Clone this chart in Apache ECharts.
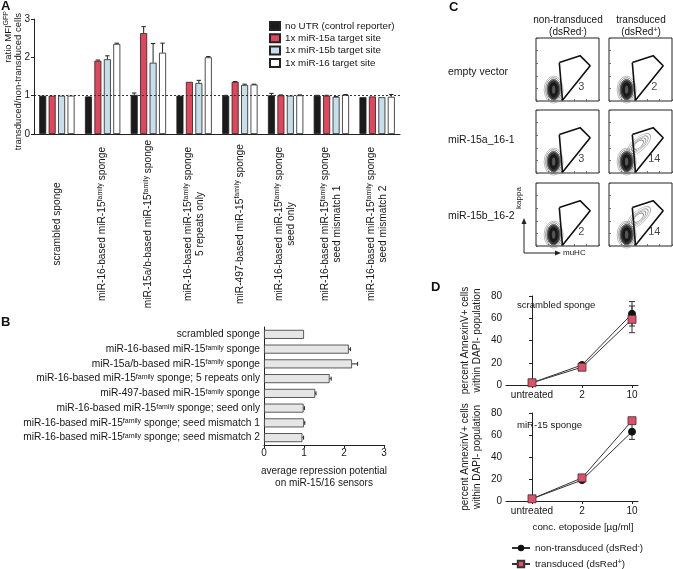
<!DOCTYPE html>
<html><head><meta charset="utf-8">
<script src="https://cdn.jsdelivr.net/npm/echarts@6/dist/echarts.min.js"></script>
<style>html,body{margin:0;padding:0;background:#fff}#c{width:673px;height:569px}</style>
</head><body><div id="c"></div>
<script>
// ---------- Panel A data ----------
const aCategories = [
  'scrambled sponge',
  'miR-16-based miR-15{sup|family} sponge',
  'miR-15a/b-based miR-15{sup|family} sponge',
  'miR-16-based miR-15{sup|family} sponge\n5 repeats only',
  'miR-497-based miR-15{sup|family} sponge',
  'miR-16-based miR-15{sup|family} sponge\nseed only',
  'miR-16-based miR-15{sup|family} sponge\nseed mismatch 1',
  'miR-16-based miR-15{sup|family} sponge\nseed mismatch 2'
];
const aSeriesNames = ['no UTR (control reporter)', '1x miR-15a target site', '1x miR-15b target site', '1x miR-16 target site'];
const aNoUTR    = [1.00, 0.98, 1.02, 1.00, 1.00, 1.01, 1.00, 0.96];
const aNoUTRErr = [0, 0, 0.05, 0, 0.01, 0.05, 0.01, 0];
const a15a      = [1.00, 1.91, 2.63, 1.36, 1.36, 1.01, 1.00, 0.98];
const a15aErr   = [0, 0.02, 0.17, 0, 0.01, 0.01, 0.01, 0];
const a15b      = [1.00, 1.95, 1.86, 1.33, 1.28, 1.00, 0.97, 0.96];
const a15bErr   = [0, 0.09, 0.50, 0.07, 0.02, 0, 0.01, 0];
const a16       = [1.00, 2.35, 2.12, 2.00, 1.29, 1.01, 1.02, 0.97];
const a16Err    = [0, 0.02, 0.25, 0.02, 0.01, 0.01, 0.01, 0.06];
const aTicks = [0, 1, 2, 3];

// ---------- Panel B data ----------
const bCategories = [
  'scrambled sponge',
  'miR-16-based miR-15{sup|family} sponge',
  'miR-15a/b-based miR-15{sup|family} sponge',
  'miR-16-based miR-15{sup|family} sponge; 5 repeats only',
  'miR-497-based miR-15{sup|family} sponge',
  'miR-16-based miR-15{sup|family} sponge; seed only',
  'miR-16-based miR-15{sup|family} sponge; seed mismatch 1',
  'miR-16-based miR-15{sup|family} sponge; seed mismatch 2'
];
const bValues = [1.00, 2.12, 2.20, 1.64, 1.28, 0.99, 1.00, 0.96];
const bErr    = [0, 0.04, 0.14, 0.04, 0.02, 0.02, 0.02, 0.03];

// ---------- Panel C data ----------
const cRowLabels = ['empty vector', 'miR-15a_16-1', 'miR-15b_16-2'];
const cColLabels = ['non-transduced', 'transduced'];
const cColSub = ['(dsRed{sup|-})', '(dsRed{sup|+})'];
const cGatePercent = [[3, 2], [3, 14], [2, 14]];
const cGate = [[37, 61], [70, 72], [86, 56], [42, 1], [37, 61]];
const cMainPopulation = [28, 18];
const cShiftedPopulation = [47, 45];
const cPercentAnchor = [72, 22];

// ---------- Panel D data ----------
const dCategories = ['untreated', '2', '10'];
const dNames = ['non-transduced (dsRed-)', 'transduced (dsRed+)'];
const dScrNon    = [2, 18, 64];
const dScrNonErr = [0.5, 1, 11];
const dScrTr     = [2, 16, 59];
const dScrTrErr  = [0.5, 1, 12];
const dSpNon     = [2, 19, 63];
const dSpNonErr  = [0.5, 1, 7];
const dSpTr      = [2, 21, 73];
const dSpTrErr   = [0.5, 1, 2];

// ---------- build ----------
const FONT = 'Liberation Sans, Arial, sans-serif';
const TXT = '#161616';
const SUP = {fontSize: 7, verticalAlign: 'top', color: TXT, fontFamily: FONT};
const chart = echarts.init(document.getElementById('c'));

const grids = [], xAxes = [], yAxes = [], series = [];

// Panel A
grids.push({left: 34, top: 19, width: 366, height: 115});
xAxes.push({gridIndex: 0, type: 'category', data: aCategories,
  axisLine: {lineStyle: {color: '#222', width: 1}}, axisTick: {show: false},
  axisLabel: {interval: 0, rotate: 90, align: 'center', verticalAlign: 'middle', margin: 90,
    fontSize: 10.2, color: TXT, fontFamily: FONT, lineHeight: 12, rich: {sup: SUP}}});
yAxes.push({gridIndex: 0, type: 'value', min: aTicks[0], max: aTicks[aTicks.length - 1], interval: 1,
  axisLine: {show: true, lineStyle: {color: '#222'}}, axisTick: {show: true, length: 3, lineStyle: {color: '#222'}},
  splitLine: {show: false}, axisLabel: {fontSize: 10, color: TXT, margin: 4}});
const aValues = [aNoUTR, a15a, a15b, a16];
const aErrors = [aNoUTRErr, a15aErr, a15bErr, a16Err];
const aColors = ['#1b1b1b', '#e2465b', '#c6dfea', '#ffffff'];
const A_BW = 7, A_GAP = 0.35, A_STEP = A_BW * (1 + A_GAP);
aValues.forEach((vals, k) => {
  const s = {type: 'bar', name: aSeriesNames[k], xAxisIndex: 0, yAxisIndex: 0, data: vals,
    barWidth: A_BW, barGap: (A_GAP * 100) + '%',
    itemStyle: {color: aColors[k], borderColor: '#222', borderWidth: 0.8}};
  if (k === 0) {
    s.markLine = {silent: true, symbol: 'none', label: {show: false},
      lineStyle: {type: [2, 2], color: '#333', width: 1}, data: [{yAxis: 1}]};
  }
  series.push(s);
  series.push({type: 'custom', xAxisIndex: 0, yAxisIndex: 0, silent: true, z: 3,
    data: vals.map((v, i) => [i, v, v + aErrors[k][i], aErrors[k][i]]),
    renderItem: (p, api) => {
      if (api.value(3) <= 0) return null;
      const b = api.coord([api.value(0), api.value(1)]);
      const t = api.coord([api.value(0), api.value(2)]);
      const x = b[0] + (k - 1.5) * A_STEP;
      return {type: 'group', children: [
        {type: 'line', shape: {x1: x, y1: b[1], x2: x, y2: t[1]}, style: {stroke: '#222', lineWidth: 1}},
        {type: 'line', shape: {x1: x - 2.2, y1: t[1], x2: x + 2.2, y2: t[1]}, style: {stroke: '#222', lineWidth: 1}}]};
    }});
});

// Panel B
grids.push({left: 264, top: 327, width: 120, height: 118});
xAxes.push({gridIndex: 1, type: 'value', min: 0, max: 3, interval: 1,
  axisLine: {show: true, lineStyle: {color: '#222'}}, axisTick: {show: true, length: 3, lineStyle: {color: '#222'}},
  splitLine: {show: false}, axisLabel: {fontSize: 10, color: TXT, margin: 3},
  name: 'average repression potential\non miR-15/16 sensors', nameLocation: 'middle', nameGap: 20,
  nameTextStyle: {fontSize: 10, color: TXT, lineHeight: 12, fontFamily: FONT}});
yAxes.push({gridIndex: 1, type: 'category', inverse: true, data: bCategories,
  axisLine: {show: true, lineStyle: {color: '#222'}}, axisTick: {show: false},
  axisLabel: {interval: 0, fontSize: 10.2, color: TXT, margin: 4, fontFamily: FONT, rich: {sup: SUP}}});
series.push({type: 'bar', xAxisIndex: 1, yAxisIndex: 1, data: bValues, barWidth: 9,
  itemStyle: {color: '#e6e6e6', borderColor: '#333', borderWidth: 0.8}});
series.push({type: 'custom', xAxisIndex: 1, yAxisIndex: 1, silent: true, z: 3,
  data: bValues.map((v, i) => [v, i, v + bErr[i], bErr[i]]),
  renderItem: (p, api) => {
    if (api.value(3) <= 0) return null;
    const b = api.coord([api.value(0), api.value(1)]);
    const t = api.coord([api.value(2), api.value(1)]);
    return {type: 'group', children: [
      {type: 'line', shape: {x1: b[0], y1: b[1], x2: t[0], y2: b[1]}, style: {stroke: '#222', lineWidth: 1}},
      {type: 'line', shape: {x1: t[0], y1: b[1] - 2, x2: t[0], y2: b[1] + 2}, style: {stroke: '#222', lineWidth: 1}}]};
  }});

// Panel C
const C_LEFT = [536, 609], C_TOP = [38, 110, 183], C_SIZE = 63;
const mainRings = [
  {s: [19, 27], stroke: '#999', fill: 'rgba(0,0,0,0)'},
  {s: [16, 24], stroke: '#666', fill: 'rgba(0,0,0,0)'},
  {s: [13.5, 21], stroke: '#444', fill: '#555'},
  {s: [11, 18], stroke: '#222', fill: '#2a2a2a'},
  {s: [8, 14], stroke: '#111', fill: '#111'},
  {s: [3, 7], stroke: '#555', fill: '#666'}
];
const shiftRings = [
  {s: [30, 13], stroke: '#999'},
  {s: [24, 10], stroke: '#888'},
  {s: [18, 8], stroke: '#777'},
  {s: [12, 6], stroke: '#666'}
];
for (let r = 0; r < 3; r++) {
  for (let c = 0; c < 2; c++) {
    const g = grids.length;
    grids.push({left: C_LEFT[c], top: C_TOP[r], width: C_SIZE, height: C_SIZE, show: true,
      borderColor: '#222', borderWidth: 1, backgroundColor: '#fff'});
    const ax = {gridIndex: g, type: 'value', min: 0, max: 100, interval: 20,
      axisLine: {show: false}, axisLabel: {show: false}, splitLine: {show: false},
      axisTick: {show: true, inside: true, length: 2, lineStyle: {color: '#555', width: 0.8}}};
    xAxes.push(Object.assign({}, ax));
    yAxes.push(Object.assign({}, ax));
    if (c === 1 && r > 0) {
      series.push({type: 'scatter', xAxisIndex: g, yAxisIndex: g, silent: true, z: 2,
        data: shiftRings.map(rg => ({value: cShiftedPopulation, symbolSize: rg.s, symbolRotate: 42,
          itemStyle: {color: 'rgba(0,0,0,0)', borderColor: rg.stroke, borderWidth: 0.8}}))});
    }
    series.push({type: 'scatter', xAxisIndex: g, yAxisIndex: g, silent: true, z: 3,
      data: mainRings.map(rg => ({value: cMainPopulation, symbolSize: rg.s,
        itemStyle: {color: rg.fill, borderColor: rg.stroke, borderWidth: 0.8}}))});
    series.push({type: 'line', xAxisIndex: g, yAxisIndex: g, silent: true, z: 4, data: cGate,
      symbol: 'none', lineStyle: {color: '#111', width: 1.6}});
    series.push({type: 'scatter', xAxisIndex: g, yAxisIndex: g, silent: true, z: 5,
      data: [cPercentAnchor], symbolSize: 1, itemStyle: {color: 'rgba(0,0,0,0)'},
      label: {show: true, position: 'inside', formatter: String(cGatePercent[r][c]),
        fontSize: 11, color: TXT, fontFamily: FONT}});
  }
}

// Panel D
const dTopGrid = grids.length;
grids.push({left: 506, top: 296, width: 132, height: 89});
grids.push({left: 506, top: 413, width: 132, height: 88});
[dTopGrid, dTopGrid + 1].forEach(g => {
  xAxes.push({gridIndex: g, type: 'value', min: -0.52, max: 2.12,
    axisLine: {show: true, lineStyle: {color: '#222'}},
    axisTick: {show: true, length: 3, customValues: [0, 1, 2], lineStyle: {color: '#222'}},
    axisLabel: {customValues: [0, 1, 2], formatter: v => dCategories[Math.round(v)], fontSize: 10, color: TXT, margin: 5},
    splitLine: {show: false}});
  yAxes.push({gridIndex: g, type: 'value', min: 0, max: 80, interval: 20,
    axisLine: {show: true, lineStyle: {color: '#222'}}, axisTick: {show: true, length: 3, lineStyle: {color: '#222'}},
    splitLine: {show: false}, axisLabel: {fontSize: 10, color: TXT, margin: 4},
    name: 'percent AnnexinV+ cells\nwithin DAPI- population', nameLocation: 'middle', nameRotate: 90, nameGap: 23,
    nameTextStyle: {fontSize: 10, color: TXT, lineHeight: 12, fontFamily: FONT}});
});
const dSets = [
  [dTopGrid, dScrNon, dScrNonErr, dScrTr, dScrTrErr],
  [dTopGrid + 1, dSpNon, dSpNonErr, dSpTr, dSpTrErr]
];
dSets.forEach(([g, non, nonE, tr, trE]) => {
  [[non, nonE], [tr, trE]].forEach(([vals, errs]) => {
    series.push({type: 'custom', xAxisIndex: g, yAxisIndex: g, silent: true, z: 1,
      data: vals.map((v, i) => [i, v - errs[i], v + errs[i]]),
      renderItem: (p, api) => {
        const lo = api.coord([api.value(0), api.value(1)]);
        const hi = api.coord([api.value(0), api.value(2)]);
        return {type: 'group', children: [
          {type: 'line', shape: {x1: lo[0], y1: lo[1], x2: hi[0], y2: hi[1]}, style: {stroke: '#333', lineWidth: 1}},
          {type: 'line', shape: {x1: lo[0] - 3, y1: lo[1], x2: lo[0] + 3, y2: lo[1]}, style: {stroke: '#333', lineWidth: 1}},
          {type: 'line', shape: {x1: hi[0] - 3, y1: hi[1], x2: hi[0] + 3, y2: hi[1]}, style: {stroke: '#333', lineWidth: 1}}]};
      }});
  });
  series.push({type: 'line', name: dNames[0], xAxisIndex: g, yAxisIndex: g, z: 3,
    data: non.map((v, i) => [i, v]), symbol: 'circle', symbolSize: 7,
    itemStyle: {color: '#111', borderColor: '#111'}, lineStyle: {color: '#333', width: 1}});
  series.push({type: 'line', name: dNames[1], xAxisIndex: g, yAxisIndex: g, z: 4,
    data: tr.map((v, i) => [i, v]), symbol: 'rect', symbolSize: 8,
    itemStyle: {color: '#e0506a', borderColor: '#333', borderWidth: 0.8}, lineStyle: {color: '#333', width: 1}});
});

// ---------- texts ----------
const t = (x, y, text, extra) => ({type: 'text', x, y, silent: true,
  style: Object.assign({text, fontSize: 10, fill: TXT, fontFamily: FONT, rich: {sup: SUP}}, extra || {})});
const letter = (x, y, s) => t(x, y, s, {fontSize: 13, fontWeight: 'bold', fill: '#111', verticalAlign: 'top'});
const graphics = [
  letter(1, 0, 'A'), letter(1, 316, 'B'), letter(449, 1, 'C'), letter(431, 281, 'D'),
  Object.assign(t(8, 11, 'ratio MFI{sup|GFP}', {fontSize: 9.5, align: 'right', verticalAlign: 'middle'}), {rotation: Math.PI / 2}),
  Object.assign(t(18, 13, 'transduced/non-transduced cells', {fontSize: 9.5, align: 'right', verticalAlign: 'middle'}), {rotation: Math.PI / 2}),
  t(568, 20, cColLabels[0], {align: 'center', verticalAlign: 'middle'}),
  t(568, 32, cColSub[0], {align: 'center', verticalAlign: 'middle'}),
  t(641, 20, cColLabels[1], {align: 'center', verticalAlign: 'middle'}),
  t(641, 32, cColSub[1], {align: 'center', verticalAlign: 'middle'}),
  t(448, 72, cRowLabels[0], {fontSize: 10.5, verticalAlign: 'middle'}),
  t(448, 140, cRowLabels[1], {fontSize: 10.5, verticalAlign: 'middle'}),
  t(448, 216, cRowLabels[2], {fontSize: 10.5, verticalAlign: 'middle'}),
  {type: 'line', silent: true, shape: {x1: 524, y1: 253, x2: 524, y2: 222}, style: {stroke: '#222', lineWidth: 1}},
  {type: 'polygon', silent: true, shape: {points: [[524, 218], [521.5, 224], [526.5, 224]]}, style: {fill: '#222'}},
  {type: 'line', silent: true, shape: {x1: 524, y1: 253, x2: 557, y2: 253}, style: {stroke: '#222', lineWidth: 1}},
  {type: 'polygon', silent: true, shape: {points: [[561, 253], [555, 250.5], [555, 255.5]]}, style: {fill: '#222'}},
  Object.assign(t(519, 198, 'kappa', {fontSize: 8, align: 'center', verticalAlign: 'middle'}), {rotation: Math.PI / 2}),
  t(563, 253, 'muHC', {fontSize: 8, verticalAlign: 'middle'}),
  t(517, 305, 'scrambled sponge', {fontSize: 9.6, verticalAlign: 'middle'}),
  t(517, 425, 'miR-15 sponge', {fontSize: 9.6, verticalAlign: 'middle'}),
  t(583, 527, 'conc. etoposide [µg/ml]', {fontSize: 9.8, align: 'center', verticalAlign: 'middle'})
];

const legendD = (name, top) => ({data: [name], orient: 'vertical', left: 506, top, itemWidth: 18, itemHeight: 8,
  selectedMode: false, textStyle: {fontSize: 9.8, color: TXT, fontFamily: FONT, rich: {sup: SUP}},
  formatter: n => n.replace(/\(dsRed([-+])\)/, (m, s) => '(dsRed{sup|' + s + '})')});

const option = {
  animation: false,
  textStyle: {fontFamily: FONT},
  grid: grids, xAxis: xAxes, yAxis: yAxes,
  legend: [
    {data: aSeriesNames, orient: 'vertical', left: 264, top: 15, itemWidth: 10, itemHeight: 8, itemGap: 0.3,
      icon: 'rect', selectedMode: false, textStyle: {fontSize: 9.8, lineHeight: 12, color: TXT, fontFamily: FONT}},
    legendD(dNames[0], 538),
    legendD(dNames[1], 554)
  ],
  graphic: {elements: graphics},
  series
};
chart.setOption(option);
</script>
</body></html>
